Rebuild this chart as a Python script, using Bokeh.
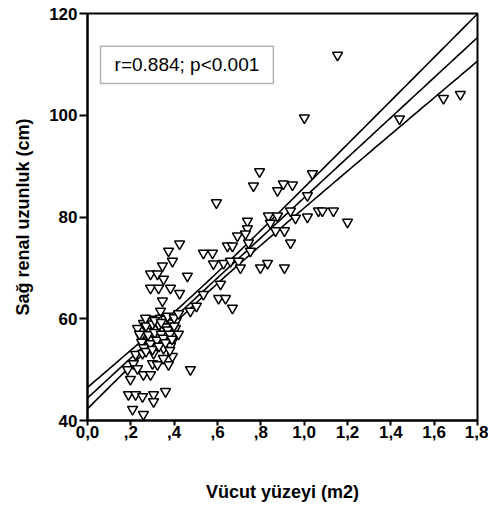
import numpy as np
from bokeh.plotting import figure
from bokeh.models import FixedTicker, BoxAnnotation, Label
from bokeh.embed import file_html
from bokeh.resources import INLINE

# Body surface area (m2) and right renal length (cm)
bsa = [
    1.154, 1.001, 1.440, 1.643, 1.721, 0.794, 1.038, 0.766, 0.877, 0.904,
    0.946, 1.015, 1.066, 1.084, 1.135, 1.200, 1.015, 0.960, 0.937, 0.909,
    0.937, 0.909, 0.835, 0.877, 0.844, 0.738, 0.738, 0.692, 0.729, 0.868,
    0.595, 0.535, 0.577, 0.646, 0.669, 0.743, 0.752, 0.581, 0.628, 0.660,
    0.697, 0.706, 0.798, 0.831, 0.614, 0.605, 0.637, 0.669, 0.425, 0.374,
    0.392, 0.346, 0.291, 0.323, 0.351, 0.461, 0.291, 0.328, 0.383, 0.425,
    0.346, 0.337, 0.231, 0.258, 0.291, 0.314, 0.337, 0.360, 0.383, 0.281,
    0.314, 0.346, 0.374, 0.406, 0.245, 0.291, 0.328, 0.360, 0.392, 0.268,
    0.314, 0.351, 0.383, 0.420, 0.222, 0.254, 0.305, 0.392, 0.212, 0.300,
    0.323, 0.374, 0.185, 0.231, 0.475, 0.258, 0.291, 0.198, 0.189, 0.222,
    0.254, 0.305, 0.360, 0.305, 0.208, 0.258, 0.268, 0.475, 0.503, 0.535,
    # dense, overlapping cluster
    0.240, 0.270, 0.300, 0.330, 0.360, 0.390, 0.410, 0.250, 0.280, 0.310,
    0.340, 0.370, 0.400, 0.260, 0.290, 0.320, 0.350, 0.380, 0.270, 0.300,
    0.330, 0.360, 0.390, 0.310, 0.340, 0.370, 0.400, 0.420, 0.350, 0.380,
]
renal_length = [
    111.8, 99.5, 99.3, 103.3, 104.1, 88.9, 88.5, 86.1, 85.2, 86.5,
    86.3, 84.2, 81.2, 81.2, 81.2, 79.0, 80.0, 79.8, 81.2, 77.3,
    74.9, 70.0, 80.2, 80.2, 78.8, 79.2, 77.7, 76.3, 76.7, 77.3,
    82.8, 72.9, 72.9, 74.3, 74.3, 74.9, 73.3, 70.8, 70.9, 71.3,
    71.3, 70.0, 70.0, 70.9, 66.8, 64.0, 64.0, 62.1, 74.7, 73.3,
    71.3, 70.4, 68.8, 68.8, 67.8, 68.4, 66.0, 66.0, 66.0, 65.0,
    63.5, 61.5, 58.1, 59.1, 59.5, 59.9, 60.1, 59.9, 59.5, 57.5,
    57.9, 58.1, 57.5, 58.1, 56.5, 55.9, 56.5, 55.9, 55.6, 54.6,
    55.0, 54.2, 54.6, 57.0, 53.0, 53.2, 53.2, 52.6, 51.2, 51.2,
    51.0, 51.0, 50.0, 50.2, 50.0, 49.0, 49.0, 48.1, 45.1, 45.1,
    44.7, 45.1, 45.7, 43.7, 42.2, 41.2, 60.1, 61.5, 62.5, 64.8,
    # dense, overlapping cluster
    57.0, 58.6, 59.0, 58.8, 58.4, 59.2, 59.6, 55.4, 56.9, 57.3,
    57.0, 57.8, 58.6, 54.3, 55.1, 55.8, 56.2, 57.0, 53.6, 54.0,
    54.6, 55.3, 56.0, 59.7, 59.3, 60.5, 60.2, 61.0, 52.2, 53.8,
]

x_ticks = [0.0, 0.2, 0.4, 0.6, 0.8, 1.0, 1.2, 1.4, 1.6, 1.8]
x_tick_labels = ["0,0", ",2", ",4", ",6", ",8", "1,0", "1,2", "1,4", "1,6", "1,8"]
y_ticks = [40, 60, 80, 100, 120]
stat_text = "r=0.884; p<0.001"

FONT = "Liberation Sans"

x = np.array(bsa)
y = np.array(renal_length)
n = len(x)
slope, intercept = np.polyfit(x, y, 1)
resid = y - (intercept + slope * x)
s = np.sqrt(np.sum(resid ** 2) / (n - 2))
xbar = x.mean()
sxx = np.sum((x - xbar) ** 2)
xs = np.linspace(0.0, 1.8, 100)
fit = intercept + slope * xs
half = 1.98 * s * np.sqrt(1.0 / n + (xs - xbar) ** 2 / sxx)

p = figure(width=488, height=505, x_range=(0, 1.8), y_range=(40, 120),
           output_backend="svg", toolbar_location=None,
           min_border_left=87, min_border_right=11, min_border_top=13, min_border_bottom=85)

p.xgrid.visible = False
p.ygrid.visible = False
p.outline_line_color = "black"
p.outline_line_width = 2
p.background_fill_color = "white"
p.border_fill_color = "white"

p.line(xs, fit + half, line_color="black", line_width=1.6)
p.line(xs, fit, line_color="black", line_width=1.6)
p.line(xs, fit - half, line_color="black", line_width=1.6)

p.scatter(bsa, renal_length, marker="inverted_triangle", size=10,
          fill_color="white", line_color="black", line_width=1.5)

p.xaxis.ticker = FixedTicker(ticks=x_ticks)
p.xaxis.major_label_overrides = {t: l for t, l in zip(x_ticks, x_tick_labels)}
p.yaxis.ticker = FixedTicker(ticks=y_ticks)

for ax in (p.xaxis[0], p.yaxis[0]):
    ax.axis_line_width = 2
    ax.axis_line_color = "black"
    ax.major_tick_line_width = 2
    ax.major_tick_line_color = "black"
    ax.major_tick_in = 0
    ax.minor_tick_line_color = None
    ax.major_label_text_font = FONT
    ax.major_label_text_font_size = "17px"
    ax.major_label_text_font_style = "bold"
    ax.major_label_text_color = "black"
    ax.axis_label_text_font = FONT
    ax.axis_label_text_font_size = "18px"
    ax.axis_label_text_font_style = "bold"
    ax.axis_label_text_color = "black"

p.xaxis.major_tick_out = 5
p.xaxis.major_label_standoff = 0
p.xaxis.axis_label = "Vücut yüzeyi (m2)"
p.xaxis.axis_label_standoff = 41

p.yaxis.major_tick_out = 8
p.yaxis.major_label_standoff = 2
p.yaxis.axis_label = "Sağ renal uzunluk (cm)"
p.yaxis.axis_label_standoff = 13

box = BoxAnnotation(left=0.06, right=0.858, bottom=106.25, top=113.55,
                    fill_color="white", fill_alpha=1.0,
                    line_color="black", line_width=1.5)
p.add_layout(box)
p.add_layout(Label(x=0.459, y=109.9, text=stat_text, text_align="center",
                   text_baseline="middle", text_font=FONT, text_font_size="19px",
                   text_color="black"))

open("out.html", "w").write(file_html(p, INLINE))
